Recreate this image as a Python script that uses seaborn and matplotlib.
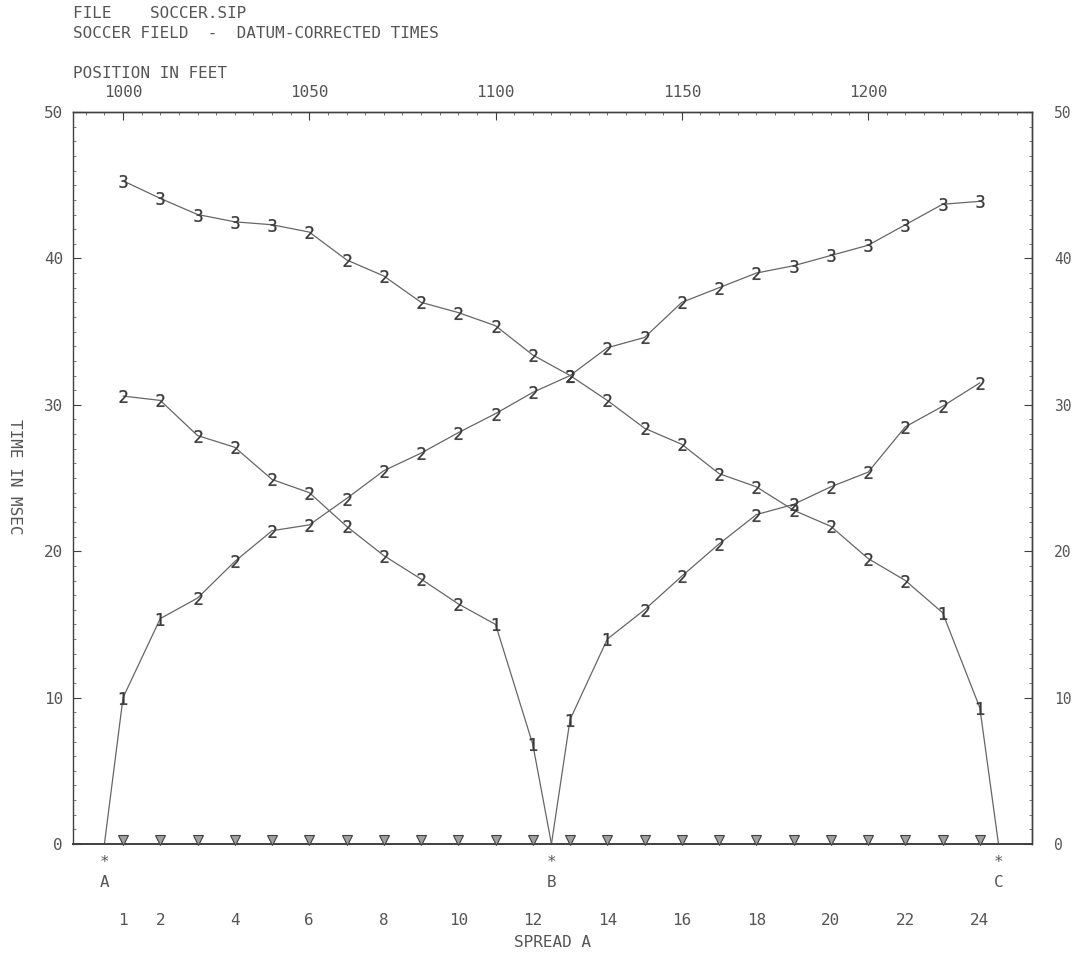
import matplotlib
matplotlib.use('Agg')
import matplotlib.pyplot as plt
import seaborn as sns
import pandas as pd
from matplotlib.ticker import MultipleLocator, FixedLocator

# --- datos ---
geofonos = [1, 2, 3, 4, 5, 6, 7, 8, 9, 10, 11, 12,
            13, 14, 15, 16, 17, 18, 19, 20, 21, 22, 23, 24]
disparos = ['A', 'B', 'C']
pos_disparos = [0.5, 12.5, 24.5]

# disparo A (directo, g1..g24)
tiempo_a = [10.0, 15.4, 16.8, 19.3, 21.4, 21.8, 23.6, 25.5, 26.7, 28.1, 29.4, 30.85,
            32.0, 33.9, 34.6, 37.0, 38.0, 39.0, 39.5, 40.2, 40.9, 42.3, 43.7, 43.9]
capa_a = ['1', '1', '2', '2', '2', '2', '2', '2', '2', '2', '2', '2',
          '2', '2', '2', '2', '2', '2', '3', '3', '3', '3', '3', '3']

# disparo C (inverso, g1..g24)
tiempo_c = [45.3, 44.1, 43.0, 42.5, 42.3, 41.8, 39.9, 38.8, 37.0, 36.3, 35.4, 33.4,
            32.0, 30.3, 28.4, 27.3, 25.3, 24.4, 22.8, 21.7, 19.5, 18.0, 15.8, 9.3]
capa_c = ['3', '3', '3', '3', '3', '2', '2', '2', '2', '2', '2', '2',
          '2', '2', '2', '2', '2', '2', '2', '2', '2', '2', '1', '1']

# disparo B, rama izquierda (g1..g12) y derecha (g13..g24)
tiempo_b_izq = [30.6, 30.3, 27.9, 27.1, 24.9, 24.0, 21.7, 19.7, 18.1, 16.4, 15.0, 6.8]
capa_b_izq = ['2', '2', '2', '2', '2', '2', '2', '2', '2', '2', '1', '1']
tiempo_b_der = [8.5, 14.0, 16.0, 18.3, 20.5, 22.5, 23.2, 24.4, 25.4, 28.5, 29.9, 31.5]
capa_b_der = ['1', '1', '2', '2', '2', '2', '2', '2', '2', '2', '2', '2']

etiquetas_x = [1, 2, 4, 6, 8, 10, 12, 14, 16, 18, 20, 22, 24]
ticks_y = [0, 10, 20, 30, 40, 50]
ticks_pies = [1000, 1050, 1100, 1150, 1200]

# --- armado de tablas ---
ramas = []
ramas.append(pd.DataFrame({'x': [pos_disparos[0]] + geofonos,
                           't': [0] + tiempo_a, 'rama': 'A'}))
ramas.append(pd.DataFrame({'x': [pos_disparos[2]] + geofonos[::-1],
                           't': [0] + tiempo_c[::-1], 'rama': 'C'}))
ramas.append(pd.DataFrame({'x': [pos_disparos[1]] + geofonos[:12][::-1],
                           't': [0] + tiempo_b_izq[::-1], 'rama': 'B1'}))
ramas.append(pd.DataFrame({'x': [pos_disparos[1]] + geofonos[12:],
                           't': [0] + tiempo_b_der, 'rama': 'B2'}))
lineas = pd.concat(ramas, ignore_index=True)

puntos = pd.concat([
    pd.DataFrame({'x': geofonos, 't': tiempo_a, 'capa': capa_a}),
    pd.DataFrame({'x': geofonos, 't': tiempo_c, 'capa': capa_c}),
    pd.DataFrame({'x': geofonos[:12], 't': tiempo_b_izq, 'capa': capa_b_izq}),
    pd.DataFrame({'x': geofonos[12:], 't': tiempo_b_der, 'capa': capa_b_der}),
], ignore_index=True)

sns.set_style('white')
plt.rcParams['font.family'] = ['DejaVu Sans Mono', 'DejaVu Sans']
plt.rcParams['mathtext.default'] = 'regular'

gris = '#555555'
fs = 11.5

fig = plt.figure(figsize=(10.73, 9.55), dpi=100)
ax = fig.add_axes([0.0678, 0.1162, 0.894, 0.7665])

sns.lineplot(data=lineas, x='x', y='t', units='rama', estimator=None, sort=False,
             color='#666666', linewidth=0.9, ax=ax, legend=False)

for capa in ['1', '2', '3']:
    sub = puntos[puntos['capa'] == capa]
    ax.scatter(sub['x'], sub['t'], marker=f'${capa}$', s=85, color='#383838',
               linewidths=0.2, zorder=3)

# geofonos sobre la linea base
ax.plot(geofonos, [0.25] * len(geofonos), linestyle='none', marker='v', markersize=7,
        markerfacecolor='#a0a0a0', markeredgecolor='#404040', markeredgewidth=0.8,
        clip_on=False, zorder=4)

# disparos
for letra, xp in zip(disparos, pos_disparos):
    ax.annotate('*', xy=(xp, 0), xytext=(0, -13.5), textcoords='offset points',
                ha='center', va='center', fontsize=fs, color=gris)
    ax.annotate(letra, xy=(xp, 0), xytext=(0, -27.5), textcoords='offset points',
                ha='center', va='center', fontsize=fs, color=gris)

ax.set_xlim(-0.35, 25.4)
ax.set_ylim(0, 50)

ax.set_xticks(etiquetas_x)
ax.set_xticklabels([str(v) for v in etiquetas_x])
ax.tick_params(axis='x', length=0, pad=50, labelsize=fs, labelcolor=gris)
ax.set_xlabel('SPREAD A', fontsize=fs, color=gris, labelpad=5)
ax.set_ylabel('')

ax.set_yticks(ticks_y)
ax.yaxis.set_minor_locator(MultipleLocator(1))
ax.tick_params(axis='y', which='major', direction='in', length=6, width=0.8,
               pad=7, labelsize=fs, labelcolor=gris, color='#404040', left=True)
ax.tick_params(axis='y', which='minor', direction='in', length=2.5, width=0.6,
               color='#606060', left=True)

# eje derecho
ax_d = ax.secondary_yaxis('right')
ax_d.set_yticks(ticks_y)
ax_d.yaxis.set_minor_locator(MultipleLocator(1))
ax_d.tick_params(axis='y', which='major', direction='in', length=6, width=0.8,
                 pad=16, labelsize=10.5, labelcolor=gris, color='#404040')
ax_d.tick_params(axis='y', which='minor', direction='in', length=2.5, width=0.6,
                 color='#606060')

# eje superior en pies
ax_s = ax.secondary_xaxis('top', functions=(lambda g: 1000 + 10 * (g - 1),
                                            lambda f: (f - 1000) / 10 + 1))
ax_s.xaxis.set_major_locator(FixedLocator(ticks_pies))
ax_s.xaxis.set_minor_locator(MultipleLocator(5))
ax_s.tick_params(axis='x', which='major', direction='in', length=6, width=0.8,
                 pad=9, labelsize=fs, labelcolor=gris, color='#404040')
ax_s.tick_params(axis='x', which='minor', direction='in', length=2.5, width=0.6,
                 color='#606060')

for a in [ax, ax_d, ax_s]:
    for sp in a.spines.values():
        sp.set_color('#404040')
        sp.set_linewidth(1.0)
ax.spines['bottom'].set_linewidth(1.4)

fig.text(73 / 1073, 1 - 13 / 955, 'FILE    SOCCER.SIP', ha='left', va='center',
         fontsize=fs, color=gris)
fig.text(73 / 1073, 1 - 33 / 955, 'SOCCER FIELD  -  DATUM-CORRECTED TIMES', ha='left',
         va='center', fontsize=fs, color=gris)
fig.text(73 / 1073, 1 - 73 / 955, 'POSITION IN FEET', ha='left', va='center',
         fontsize=fs, color=gris)
fig.text(14 / 1073, 1 - 477 / 955, 'TIME IN MSEC', rotation=270, ha='center',
         va='center', fontsize=fs, color=gris)

fig.savefig('out.png', dpi=100)
plt.close(fig)
